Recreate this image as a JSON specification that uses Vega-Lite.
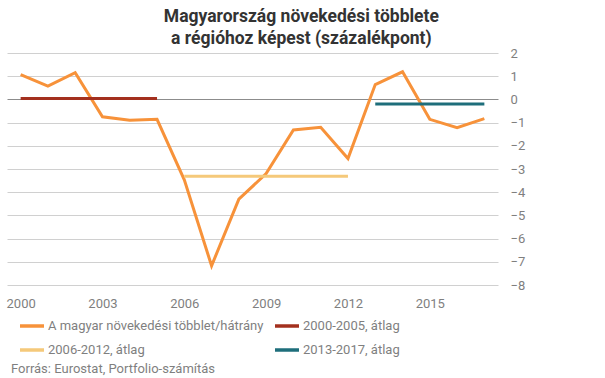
{
  "$schema": "https://vega.github.io/schema/vega-lite/v6.json",
  "padding": {"left": 6, "top": 7, "right": 5, "bottom": 2},
  "background": "white",
  "title": {
    "text": ["Magyarország növekedési többlete", "a régióhoz képest (százalékpont)"],
    "font": "Roboto",
    "fontSize": 17.5,
    "fontWeight": "bold",
    "color": "#333333",
    "lineHeight": 22,
    "anchor": "middle",
    "dx": 36,
    "offset": 0
  },
  "config": {
    "view": {"stroke": null},
    "font": "Roboto",
    "concat": {"spacing": 0}
  },
  "vconcat": [
    {
      "width": 491,
      "height": 232,
      "title": {
        "text": "Forrás: Eurostat, Portfolio-számítás",
        "orient": "bottom",
        "anchor": "start",
        "font": "Roboto",
        "fontSize": 13,
        "fontWeight": "normal",
        "color": "#7f7f7f",
        "offset": 53,
        "dx": 5
      },
      "data": {
        "values": [
          {"year": 2000, "value": 1.07, "series": "A magyar növekedési többlet/hátrány"},
          {"year": 2001, "value": 0.57, "series": "A magyar növekedési többlet/hátrány"},
          {"year": 2002, "value": 1.15, "series": "A magyar növekedési többlet/hátrány"},
          {"year": 2003, "value": -0.75, "series": "A magyar növekedési többlet/hátrány"},
          {"year": 2004, "value": -0.9, "series": "A magyar növekedési többlet/hátrány"},
          {"year": 2005, "value": -0.86, "series": "A magyar növekedési többlet/hátrány"},
          {"year": 2006, "value": -3.47, "series": "A magyar növekedési többlet/hátrány"},
          {"year": 2007, "value": -7.17, "series": "A magyar növekedési többlet/hátrány"},
          {"year": 2008, "value": -4.3, "series": "A magyar növekedési többlet/hátrány"},
          {"year": 2009, "value": -3.2, "series": "A magyar növekedési többlet/hátrány"},
          {"year": 2010, "value": -1.32, "series": "A magyar növekedési többlet/hátrány"},
          {"year": 2011, "value": -1.2, "series": "A magyar növekedési többlet/hátrány"},
          {"year": 2012, "value": -2.55, "series": "A magyar növekedési többlet/hátrány"},
          {"year": 2013, "value": 0.64, "series": "A magyar növekedési többlet/hátrány"},
          {"year": 2014, "value": 1.19, "series": "A magyar növekedési többlet/hátrány"},
          {"year": 2015, "value": -0.86, "series": "A magyar növekedési többlet/hátrány"},
          {"year": 2016, "value": -1.22, "series": "A magyar növekedési többlet/hátrány"},
          {"year": 2017, "value": -0.83, "series": "A magyar növekedési többlet/hátrány"},
          {"year": 2000, "value": 0.04, "series": "2000-2005, átlag"},
          {"year": 2005, "value": 0.04, "series": "2000-2005, átlag"},
          {"year": 2006, "value": -3.31, "series": "2006-2012, átlag"},
          {"year": 2012, "value": -3.31, "series": "2006-2012, átlag"},
          {"year": 2013, "value": -0.2, "series": "2013-2017, átlag"},
          {"year": 2017, "value": -0.2, "series": "2013-2017, átlag"}
        ]
      },
      "mark": {"type": "line", "strokeWidth": 3, "strokeCap": "butt", "strokeJoin": "miter"},
      "encoding": {
        "x": {
          "field": "year",
          "type": "quantitative",
          "scale": {"domain": [1999.5, 2017.5], "nice": false, "zero": false},
          "axis": {
            "title": null,
            "values": [2000, 2003, 2006, 2009, 2012, 2015],
            "format": "d",
            "grid": false,
            "domain": false,
            "ticks": false,
            "labelFont": "Roboto",
            "labelFontSize": 13,
            "labelColor": "#7f7f7f",
            "labelPadding": 12,
            "labelFlush": false
          }
        },
        "y": {
          "field": "value",
          "type": "quantitative",
          "scale": {"domain": [-8, 2], "nice": false},
          "axis": {
            "orient": "right",
            "title": null,
            "values": [-8, -7, -6, -5, -4, -3, -2, -1, 0, 1, 2],
            "domain": false,
            "ticks": false,
            "grid": true,
            "gridColor": {"condition": {"test": "datum.value === 0", "value": "#8c8c8c"}, "value": "#d0d0d0"},
            "gridWidth": 1,
            "labelFont": "Roboto",
            "labelFontSize": 13,
            "labelColor": "#7f7f7f",
            "labelPadding": 12
          }
        },
        "color": {
          "field": "series",
          "type": "nominal",
          "scale": {
            "domain": ["A magyar növekedési többlet/hátrány", "2000-2005, átlag", "2006-2012, átlag", "2013-2017, átlag"],
            "range": ["#F7923A", "#A3301E", "#F5C97A", "#1E6E7B"]
          },
          "legend": {
            "title": null,
            "orient": "none",
            "legendX": 11,
            "legendY": 259,
            "columns": 2,
            "direction": "horizontal",
            "symbolType": "stroke",
            "symbolSize": 576,
            "symbolStrokeWidth": 3.5,
            "labelFont": "Roboto",
            "labelFontSize": 13,
            "labelColor": "#7f7f7f",
            "labelOffset": 2,
            "columnPadding": 4,
            "rowPadding": 3,
            "labelLimit": 300
          }
        }
      }
    }
  ]
}
